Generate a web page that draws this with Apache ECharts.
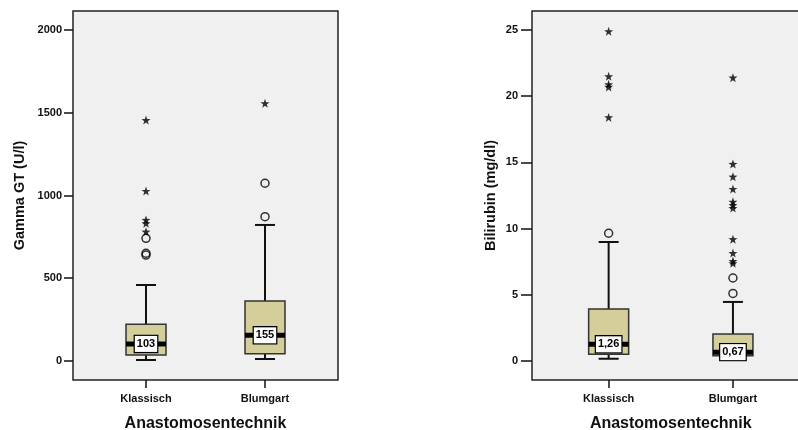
<!DOCTYPE html>
<html>
<head>
<meta charset="utf-8">
<script src="https://cdn.jsdelivr.net/npm/echarts@6/dist/echarts.min.js"></script>
<style>
html,body{margin:0;padding:0;background:#fff;}
#chart{width:798px;height:430px;}
</style>
</head>
<body>
<div id="chart"></div>
<script>
// ---- data ----
const categories = ['Klassisch', 'Blumgart'];
// [lower whisker, Q1, median, Q3, upper whisker]
const gammaBox = [[6, 36, 103, 222, 459], [12, 44, 155, 363, 822]];
const gammaMedianLabels = ['103', '155'];
const gammaCircles = [[651, 640, 741], [872, 1074]];
const gammaStars = [[781, 832, 852, 1027, 1456], [1557]];
const gammaTicks = [0, 500, 1000, 1500, 2000];

const biliBox = [[0.17, 0.51, 1.26, 3.93, 8.99], [0.30, 0.40, 0.67, 2.04, 4.46]];
const biliMedianLabels = ['1,26', '0,67'];
const biliCircles = [[9.65], [5.1, 6.27]];
const biliStars = [[18.4, 20.7, 20.9, 21.5, 24.9], [7.38, 7.55, 8.15, 9.2, 11.55, 11.78, 12.02, 12.99, 13.92, 14.88, 21.4]];
const biliTicks = [0, 5, 10, 15, 20, 25];

// ---- styling ----
const FONT = '"Liberation Sans", Arial, sans-serif';
const BOXFILL = '#d3ce9a';
const INK = '#111';
const STAR = 'path://M0,-10 L2.35,-3.24 9.51,-3.09 3.8,1.24 5.88,8.09 0,4 -5.88,8.09 -3.8,1.24 -9.51,-3.09 -2.35,-3.24 Z';

function boxRender(labels) {
  return function (params, api) {
    const i = api.value(0);
    const lo = api.coord([i, api.value(1)]);
    const q1 = api.coord([i, api.value(2)]);
    const med = api.coord([i, api.value(3)]);
    const q3 = api.coord([i, api.value(4)]);
    const hi = api.coord([i, api.value(5)]);
    const x = lo[0], bw = 40, cw = 20;
    const ls = { stroke: INK, lineWidth: 2 };
    return {
      type: 'group',
      children: [
        { type: 'line', shape: { x1: x, y1: q3[1], x2: x, y2: hi[1] }, style: ls },
        { type: 'line', shape: { x1: x, y1: q1[1], x2: x, y2: lo[1] }, style: ls },
        { type: 'line', shape: { x1: x - cw / 2, y1: hi[1], x2: x + cw / 2, y2: hi[1] }, style: ls },
        { type: 'line', shape: { x1: x - cw / 2, y1: lo[1], x2: x + cw / 2, y2: lo[1] }, style: ls },
        { type: 'rect', shape: { x: x - bw / 2, y: q3[1], width: bw, height: q1[1] - q3[1] },
          style: { fill: BOXFILL, stroke: '#333', lineWidth: 1.5 } },
        { type: 'rect', shape: { x: x - bw / 2, y: med[1] - 2.5, width: bw, height: 5 }, style: { fill: '#000' } },
        { type: 'text', x: x, y: med[1],
          style: { text: labels[params.dataIndex], fill: '#000', font: 'bold 11px ' + FONT,
            align: 'center', verticalAlign: 'middle', backgroundColor: '#fff',
            borderColor: '#000', borderWidth: 1.2, padding: [3, 2, 2, 2] } }
      ]
    };
  };
}

function pts(arr) {
  const out = [];
  arr.forEach((vals, i) => vals.forEach(v => out.push([i, v])));
  return out;
}

function frameYAxis(gi, min, max, ticks, name, gap, tlen, margin) {
  return {
    gridIndex: gi, type: 'value', min: min, max: max,
    axisLine: { show: false },
    splitLine: { show: false },
    axisTick: { show: true, length: tlen, customValues: ticks, lineStyle: { color: INK, width: 1.5 } },
    axisLabel: { customValues: ticks, margin: margin, color: INK, fontFamily: FONT, fontWeight: 'bold', fontSize: 11,
      formatter: v => String(v) },
    name: name, nameLocation: 'middle', nameGap: gap,
    nameTextStyle: { color: INK, fontFamily: FONT, fontWeight: 'bold', fontSize: 14.5 }
  };
}
function dataYAxis(gi, min, max) {
  return { gridIndex: gi, type: 'value', min: min, max: max, show: false, splitLine: { show: false } };
}
function frameXAxis(gi) {
  return { gridIndex: gi, type: 'value', min: 0, max: 1, show: false, splitLine: { show: false } };
}
function dataXAxis(gi) {
  return {
    gridIndex: gi, type: 'category', data: categories, boundaryGap: true, position: 'bottom',
    axisLine: { show: false, onZero: false },
    axisTick: { show: true, alignWithLabel: true, length: 8, lineStyle: { color: INK, width: 1.5 } },
    axisLabel: { margin: 13, color: INK, fontFamily: FONT, fontWeight: 'bold', fontSize: 11 },
    splitLine: { show: false },
    name: 'Anastomosentechnik', nameLocation: 'middle', nameGap: 36,
    nameTextStyle: { color: INK, fontFamily: FONT, fontWeight: 'bold', fontSize: 16 }
  };
}

const gMin = -115, gMax = 2115, bMin = -1.435, bMax = 26.435;
const G = { top: 11, height: 369, outerBoundsMode: 'none', containLabel: false };

const option = {
  animation: false,
  backgroundColor: '#fff',
  grid: [
    Object.assign({ left: 73, width: 265, show: true, backgroundColor: '#f0f0f0', borderColor: '#222', borderWidth: 1.5 }, G),
    Object.assign({ left: 86.5, width: 238 }, G),
    Object.assign({ left: 532, width: 272, show: true, backgroundColor: '#f0f0f0', borderColor: '#222', borderWidth: 1.5 }, G),
    Object.assign({ left: 546.5, width: 248.6 }, G)
  ],
  xAxis: [frameXAxis(0), dataXAxis(1), frameXAxis(2), dataXAxis(3)],
  yAxis: [
    frameYAxis(0, gMin, gMax, gammaTicks, 'Gamma GT (U/l)', 46, 9, 11),
    dataYAxis(1, gMin, gMax),
    frameYAxis(2, bMin, bMax, biliTicks, 'Bilirubin (mg/dl)', 34, 11, 14),
    dataYAxis(3, bMin, bMax)
  ],
  series: [
    { type: 'custom', xAxisIndex: 1, yAxisIndex: 1, renderItem: boxRender(gammaMedianLabels),
      encode: { x: 0, y: [1, 2, 3, 4, 5] }, data: gammaBox.map((b, i) => [i].concat(b)), z: 3 },
    { type: 'scatter', xAxisIndex: 1, yAxisIndex: 1, symbol: 'circle', symbolSize: 8,
      itemStyle: { color: 'rgba(0,0,0,0)', borderColor: '#000', borderWidth: 1.5 }, data: pts(gammaCircles), z: 4 },
    { type: 'scatter', xAxisIndex: 1, yAxisIndex: 1, symbol: STAR, symbolSize: 9,
      itemStyle: { color: '#000' }, data: pts(gammaStars), z: 4 },
    { type: 'custom', xAxisIndex: 3, yAxisIndex: 3, renderItem: boxRender(biliMedianLabels),
      encode: { x: 0, y: [1, 2, 3, 4, 5] }, data: biliBox.map((b, i) => [i].concat(b)), z: 3 },
    { type: 'scatter', xAxisIndex: 3, yAxisIndex: 3, symbol: 'circle', symbolSize: 8,
      itemStyle: { color: 'rgba(0,0,0,0)', borderColor: '#000', borderWidth: 1.5 }, data: pts(biliCircles), z: 4 },
    { type: 'scatter', xAxisIndex: 3, yAxisIndex: 3, symbol: STAR, symbolSize: 9,
      itemStyle: { color: '#000' }, data: pts(biliStars), z: 4 }
  ]
};

const chart = echarts.init(document.getElementById('chart'), null, { renderer: 'canvas' });
chart.setOption(option);
</script>
</body>
</html>
